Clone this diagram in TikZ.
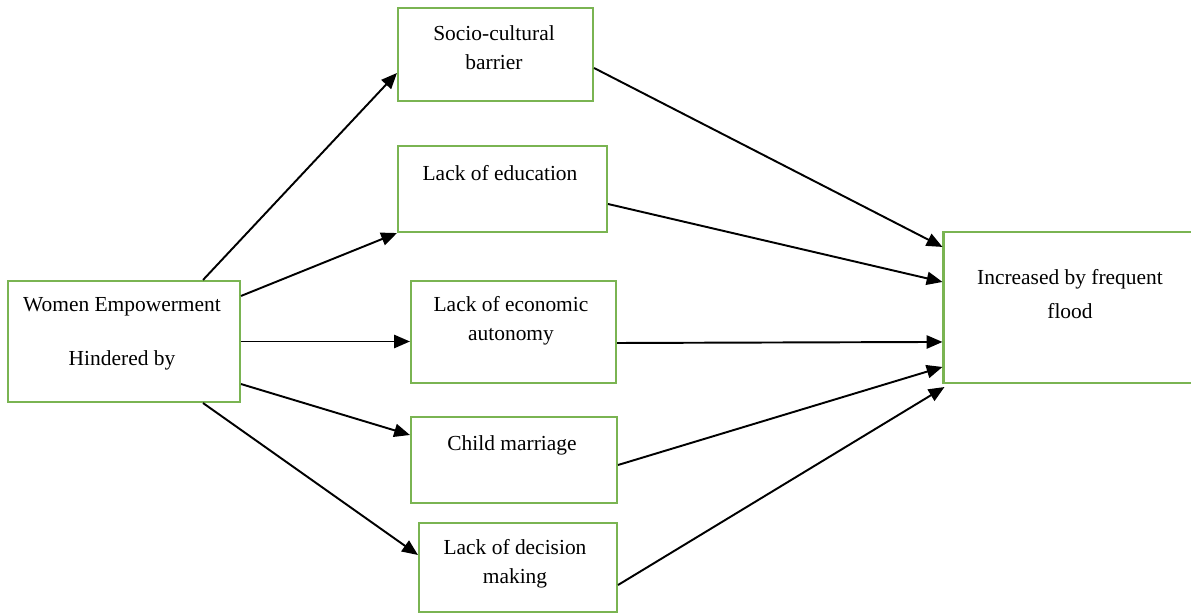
\documentclass[tikz,border=0pt]{standalone}
\usepackage{fontspec}
\setmainfont{Liberation Serif}
\usepackage{tikz}
\usetikzlibrary{positioning,calc,arrows.meta}
\definecolor{boxgreen}{RGB}{122,180,82}

\begin{document}
\begin{tikzpicture}[x=0.02cm, y=-0.02cm,
    box/.style={draw=boxgreen, line width=1.2pt, fill=white, inner sep=0pt},
    txt/.style={align=center, font=\fontsize{12.2}{16.5}\selectfont, inner sep=0pt},
    arr/.style={-{Triangle[length=9pt,width=7.5pt]}, line width=1.1pt}]
    % Page frame
    \clip (0,0) rectangle (1191,614);

    % Boxes
    \node[box, minimum width=4.64cm, minimum height=2.42cm] (women) at (124,341.5) {};
    \node[box, minimum width=3.90cm, minimum height=1.86cm] (soc) at (495.5,54.5) {};
    \node[box, minimum width=4.18cm, minimum height=1.72cm] (edu) at (502.5,189) {};
    \node[box, minimum width=4.10cm, minimum height=2.04cm] (eco) at (513.5,332) {};
    \node[box, minimum width=4.12cm, minimum height=1.72cm] (child) at (514,460) {};
    \node[box, minimum width=3.96cm, minimum height=1.78cm] (dec) at (518,567.5) {};
    \node[box, minimum width=5.10cm, minimum height=3.02cm] (flood) at (1071,307.5) {};

    % Texts
    \node[txt] (womentxt) at (122,334) {Women Empowerment\\[14pt]Hindered by};
    \node[txt] (soctxt) at (494,48) {Socio-cultural\\barrier};
    \node[txt] (edutxt) at (500,173) {Lack of education};
    \node[txt] (ecotxt) at (511,321) {Lack of economic\\autonomy};
    \node[txt] (childtxt) at (512,445) {Child marriage};
    \node[txt] (dectxt) at (515,564) {Lack of decision\\making};
    \node[txt] (floodtxt) at (1070,294) {Increased by frequent\\[3pt]flood};

    % Arrows from the left box
    \draw[arr] ($(women.north east)+(-38,0)$) -- ($(soc.west)+(0,18.5)$);
    \draw[arr] ($(women.north east)+(0,16)$) -- (edu.south west);
    \draw[arr] (women.east) -- (women.east -| eco.west);
    \draw[arr] ($(women.south east)+(0,-19)$) -- ($(child.west)+(0,-25)$);
    \draw[arr] ($(women.south east)+(-38,0)$) -- ($(dec.west)+(0,-12.5)$);

    % Arrows into the right box
    \draw[arr] ($(soc.east)+(0,13.5)$) -- ($(flood.north west)+(0,16)$);
    \draw[arr] ($(edu.east)+(0,15)$) -- ($(flood.north west)+(0,51)$);
    \draw[arr] ($(eco.east)+(0,11)$) -- ($(flood.north west)+(0,111)$);
    \draw[arr] ($(child.east)+(0,5)$) -- ($(flood.north west)+(0,136)$);
    \draw[arr] ($(dec.east)+(0,17.5)$) -- ($(flood.south west)+(2,3)$);
\end{tikzpicture}
\end{document}
